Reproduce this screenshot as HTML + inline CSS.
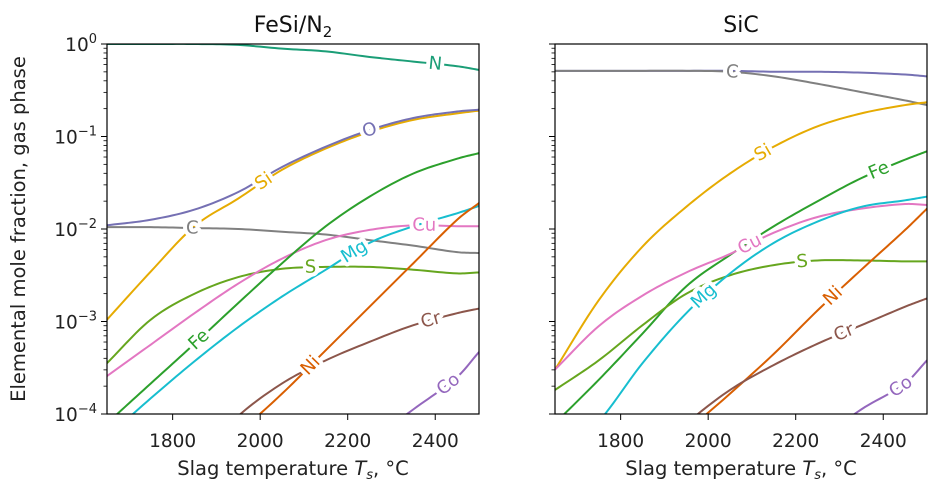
<!DOCTYPE html>
<html><head><meta charset="utf-8"><style>
html,body{margin:0;padding:0;background:#fff;overflow:hidden;width:945px;height:499px;}
svg{display:block;overflow:hidden;}
svg text{font-family:"DejaVu Sans","Liberation Sans",sans-serif;}
</style></head><body>
<svg id="chart" width="945" height="499" viewBox="0 0 945 499" xmlns="http://www.w3.org/2000/svg"></svg>
<script>
const temps = [1650,1750,1850,1950,2050,2150,2250,2350,2450,2500];
const xTicks = [1800,2000,2200,2400];
const yTickExps = [0,-1,-2,-3,-4];
const panelTitles = ["FeSi/N","SiC"];
// log10 mole fraction values per series, left panel (FeSi/N2)
const leftN  = [0,0,0,-0.01,-0.05,-0.08,-0.14,-0.19,-0.24,-0.28];
const leftO  = [-1.96,-1.90,-1.79,-1.60,-1.33,-1.11,-0.93,-0.80,-0.73,-0.71];
const leftSi = [-2.98,-2.46,-1.97,-1.67,-1.36,-1.13,-0.95,-0.82,-0.75,-0.72];
const leftC  = [-1.98,-1.98,-1.99,-2.00,-2.03,-2.06,-2.12,-2.18,-2.25,-2.26];
const leftCu = [-3.59,-3.25,-2.91,-2.59,-2.32,-2.12,-2.01,-1.96,-1.97,-1.97];
const leftMg = [-4.25,-3.83,-3.43,-3.06,-2.73,-2.44,-2.15,-1.97,-1.83,-1.75];
const leftFe = [-4.10,-3.67,-3.24,-2.80,-2.37,-1.97,-1.65,-1.40,-1.24,-1.18];
const leftS  = [-3.45,-2.98,-2.70,-2.52,-2.43,-2.41,-2.41,-2.44,-2.48,-2.47];
const leftNi = [-5.5,-5.0,-4.55,-4.2,-3.78,-3.31,-2.84,-2.37,-1.90,-1.72];
const leftCr = [-5.5,-5.0,-4.5,-4.02,-3.67,-3.42,-3.22,-3.04,-2.91,-2.86];
const leftCo = [-7.5,-7.0,-6.3,-5.7,-5.2,-4.7,-4.3,-3.95,-3.60,-3.33];
// right panel (SiC)
const rightO  = [-0.29,-0.29,-0.29,-0.29,-0.29,-0.30,-0.30,-0.31,-0.33,-0.35];
const rightC  = [-0.29,-0.29,-0.29,-0.29,-0.30,-0.35,-0.43,-0.52,-0.61,-0.66];
const rightSi = [-3.52,-2.77,-2.19,-1.76,-1.40,-1.11,-0.89,-0.75,-0.66,-0.63];
const rightCu = [-3.52,-3.05,-2.72,-2.47,-2.27,-2.04,-1.87,-1.78,-1.73,-1.74];
const rightFe = [-4.10,-3.63,-3.13,-2.62,-2.28,-1.97,-1.70,-1.45,-1.25,-1.16];
const rightS  = [-3.74,-3.42,-3.04,-2.70,-2.50,-2.39,-2.34,-2.34,-2.35,-2.35];
const rightMg = [-4.5,-4.08,-3.45,-2.91,-2.48,-2.15,-1.92,-1.76,-1.69,-1.65];
const rightNi = [-5.7,-5.2,-4.7,-4.2,-3.78,-3.35,-2.88,-2.44,-2.01,-1.78];
const rightCr = [-5.4,-4.95,-4.5,-4.1,-3.74,-3.47,-3.24,-3.04,-2.84,-2.75];
const rightCo = [-7.5,-7.0,-6.3,-5.75,-5.25,-4.75,-4.3,-3.95,-3.67,-3.42];

const colors = {N:"#1b9e77",O:"#7570b3",Si:"#e6ab02",C:"#808080",Cu:"#e377c2",Mg:"#17becf",Fe:"#2ca02c",S:"#66a61e",Ni:"#d95f02",Cr:"#8c564b",Co:"#9467bd"};
const leftSeries = [["N",leftN,2400],["Si",leftSi,2008],["O",leftO,2250],["C",leftC,1845],["S",leftS,2115],["Cu",leftCu,2375],["Mg",leftMg,2215],["Fe",leftFe,1860],["Ni",leftNi,2115],["Cr",leftCr,2390],["Co",leftCo,2430]];
const rightSeries = [["O",rightO,null],["C",rightC,2055],["Si",rightSi,2125],["Fe",rightFe,2390],["Cu",rightCu,2095],["S",rightS,2215],["Mg",rightMg,1990],["Ni",rightNi,2285],["Cr",rightCr,2310],["Co",rightCo,2440]];

const svg = document.getElementById('chart');
const NS = "http://www.w3.org/2000/svg";
function mk(tag, attrs, parent){const e=document.createElementNS(NS,tag);for(const k in attrs)e.setAttribute(k,attrs[k]);(parent||svg).appendChild(e);return e;}

const TOP=44, BOT=414, XMIN=1650, XMAX=2500, YMAX=0, YMIN=-4;
function drawPanel(idx, left, right, series, title){
  const xs = t => left + (t-XMIN)/(XMAX-XMIN)*(right-left);
  const ys = v => TOP + (YMAX-v)/(YMAX-YMIN)*(BOT-TOP);
  const g = mk('g',{});
  
  
  const cp = mk('clipPath',{id:'clip'+idx},g);
  mk('rect',{x:left,y:TOP,width:right-left,height:BOT-TOP},cp);
  const lines = mk('g',{'clip-path':'url(#clip'+idx+')'},g);
  const curveFns = {};
  series.forEach(([name, vals, lt])=>{
    const px = temps.map(xs), py = vals.map(ys);
    const n = px.length, m=[];
    for(let i=0;i<n;i++){const a=Math.max(0,i-1),b=Math.min(n-1,i+1);m.push((py[b]-py[a])/(px[b]-px[a]));}
    const cl = y => Math.max(TOP-4, Math.min(BOT+4, y));
    const pts = [[px[0],cl(py[0])]];
    for(let i=0;i<n-1;i++){const h=px[i+1]-px[i];
      for(let k=1;k<=12;k++){const s=k/12,h00=2*s*s*s-3*s*s+1,h10=s*s*s-2*s*s+s,h01=-2*s*s*s+3*s*s,h11=s*s*s-s*s;
        const x=px[i]+s*h, y=h00*py[i]+h10*h*m[i]+h01*py[i+1]+h11*h*m[i+1]; pts.push([x,cl(y)]);}}
    const d = 'M'+pts.map(p=>p[0].toFixed(2)+','+p[1].toFixed(2)).join(' L');
    const p = mk('path',{d:d,fill:'none',stroke:colors[name],'stroke-width':2},lines);
    
    
    curveFns[name] = t => {
      const x=xs(t); let i=0; while(i<n-2 && x>px[i+1]) i++;
      const h=px[i+1]-px[i], s=(x-px[i])/h, h00=2*s*s*s-3*s*s+1,h10=s*s*s-2*s*s+s,h01=-2*s*s*s+3*s*s,h11=s*s*s-s*s;
      return h00*py[i]+h10*h*m[i]+h01*py[i+1]+h11*h*m[i+1];};
  });
  series.forEach(([name, vals, lt])=>{
    if(lt===null) return;
    const x = xs(lt), y = curveFns[name](lt);
    const dx = xs(lt+10)-xs(lt-10), dy = curveFns[name](lt+10)-curveFns[name](lt-10);
    const ang = Math.atan2(dy,dx)*180/Math.PI;
    const t = mk('text',{x:x,y:y,'font-size':18,fill:colors[name],'text-anchor':'middle','dominant-baseline':'central',stroke:'#fff','stroke-width':8,'paint-order':'stroke','stroke-linejoin':'round',transform:`rotate(${ang.toFixed(1)} ${x} ${y})`},g);
    t.textContent = name;
    
    
  });
  const fr = mk('rect',{x:left,y:TOP,width:right-left,height:BOT-TOP,fill:'none',stroke:'#000','stroke-width':1.2},g);
  
  
  xTicks.forEach(t=>{const x=xs(t);
    mk('line',{x1:x,x2:x,y1:BOT,y2:BOT+6,stroke:'#000','stroke-width':1},g);
    const tx=mk('text',{x:x,y:447,'font-size':18.5,'text-anchor':'middle',fill:'#222'},g);tx.textContent=t;
    
    
  });
  yTickExps.forEach(e=>{const y=ys(e);
    mk('line',{x1:left-6,x2:left,y1:y,y2:y,stroke:'#000','stroke-width':1},g);
    if(e>YMIN) for(let k=2;k<=9;k++){const yy=ys(e-1+Math.log10(k));mk('line',{x1:left-3.5,x2:left,y1:yy,y2:yy,stroke:'#000','stroke-width':0.8},g);}
    if(idx===0){const tx=mk('text',{x:left-10,y:y+7,'font-size':18.5,'text-anchor':'end',fill:'#222'},g);
      tx.innerHTML=`10<tspan dy="-8" font-size="13">${e===0?'0':'\u2212'+String(-e)}</tspan>`;
      
      }
  });
  const xl = mk('text',{x:(left+right)/2,y:475,'font-size':19.5,'text-anchor':'middle',fill:'#222'},g);
  xl.innerHTML = 'Slag temperature <tspan font-style="italic">T</tspan><tspan font-style="italic" font-size="13" dy="4">s</tspan><tspan dy="-4">, °C</tspan>';
  
  
  const ti = mk('text',{x:(left+right)/2,y:32,'font-size':22,'text-anchor':'middle',fill:'#111'},g);
  ti.innerHTML = idx===0 ? title+'<tspan font-size="15" dy="5">2</tspan>' : title;
  
  
}
drawPanel(0,107,479,leftSeries,panelTitles[0]);
drawPanel(1,555,927,rightSeries,panelTitles[1]);
const yl = mk('text',{x:0,y:0,'font-size':19.5,'text-anchor':'middle',fill:'#222',transform:'translate(25,229) rotate(-90)'});
yl.textContent='Elemental mole fraction, gas phase';


</script>
</body></html>
